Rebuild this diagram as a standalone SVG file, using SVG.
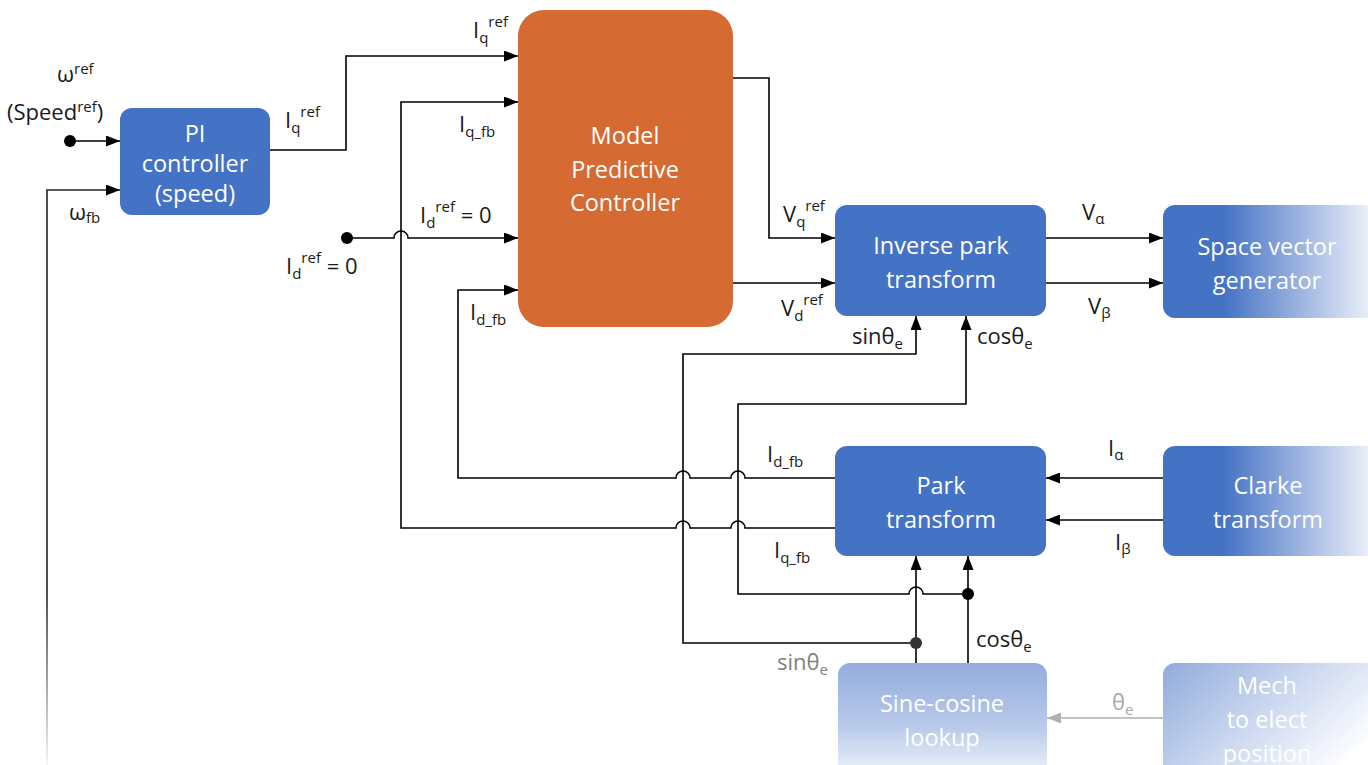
<svg xmlns="http://www.w3.org/2000/svg" width="1368" height="765" viewBox="0 0 1368 765">
<defs>
<style>
.box{fill:#4472C4}
.bt{font-family:"Open Sans","Noto Sans",sans-serif;font-size:23.5px;fill:#fff;text-anchor:middle}
.lb{font-family:"Open Sans","Noto Sans",sans-serif;font-size:22px;fill:#1a1a1a}
.sm{font-size:15px}
.ln{fill:none;stroke:#000;stroke-width:1.6}
.dot{fill:#000}
</style>
<marker id="ah" viewBox="0 0 14 11" refX="14" refY="5.5" markerWidth="14" markerHeight="11" markerUnits="userSpaceOnUse" orient="auto">
<path d="M0,0 L14,5.5 L0,11 z" fill="#000"/>
</marker>
<marker id="ahg" viewBox="0 0 14 11" refX="14" refY="5.5" markerWidth="14" markerHeight="11" markerUnits="userSpaceOnUse" orient="auto">
<path d="M0,0 L14,5.5 L0,11 z" fill="#b0b0b0"/>
</marker>
<linearGradient id="gH" x1="0" y1="0" x2="1" y2="0">
<stop offset="0.28" stop-color="#4472C4"/>
<stop offset="0.65" stop-color="#A0B6E1"/>
<stop offset="1" stop-color="#F4F7FC"/>
</linearGradient>
<linearGradient id="gV" x1="0" y1="0" x2="0" y2="1">
<stop offset="0" stop-color="#93ADDC"/>
<stop offset="0.55" stop-color="#BACBEA"/>
<stop offset="1" stop-color="#FAFBFE"/>
</linearGradient>
<linearGradient id="gD" x1="0" y1="0" x2="1" y2="0.6">
<stop offset="0" stop-color="#90ABDB"/>
<stop offset="0.5" stop-color="#C9D6EF"/>
<stop offset="1" stop-color="#FFFFFF"/>
</linearGradient>
<linearGradient id="gL" gradientUnits="userSpaceOnUse" x1="0" y1="190" x2="0" y2="765">
<stop offset="0.7" stop-color="#222"/>
<stop offset="1" stop-color="#f4f4f4"/>
</linearGradient>
</defs>
<rect width="1368" height="765" fill="#fff"/>

<g id="connectors">
<circle class="dot" cx="70" cy="141" r="6"/>
<path class="ln" d="M70,141 H120" marker-end="url(#ah)"/>
<path d="M47,765 V190 H120" fill="none" stroke="url(#gL)" stroke-width="1.6" marker-end="url(#ah)"/>
<path class="ln" d="M270,150 H346 V56 H518" marker-end="url(#ah)"/>
<path class="ln" d="M835,528 H745 A7,7 0 0 0 731,528 H690 A7,7 0 0 0 676,528 H401 V102 H518" marker-end="url(#ah)"/>
<circle class="dot" cx="347" cy="238" r="6"/>
<path class="ln" d="M347,238 H394 A7,7 0 0 1 408,238 H518" marker-end="url(#ah)"/>
<path class="ln" d="M835,478 H745 A7,7 0 0 0 731,478 H690 A7,7 0 0 0 676,478 H458 V290 H518" marker-end="url(#ah)"/>
<path class="ln" d="M733,78 H769 V238 H835" marker-end="url(#ah)"/>
<path class="ln" d="M733,283 H835" marker-end="url(#ah)"/>
<path class="ln" d="M1046,238 H1163" marker-end="url(#ah)"/>
<path class="ln" d="M1046,283 H1163" marker-end="url(#ah)"/>
<path class="ln" d="M1163,478 H1046" marker-end="url(#ah)"/>
<path class="ln" d="M1163,520 H1046" marker-end="url(#ah)"/>
<path class="ln" d="M916,643 H683 V354 H916 V316" marker-end="url(#ah)"/>
<path class="ln" d="M968,594 H923 A7,7 0 0 0 909,594 H738 V404 H966 V316" marker-end="url(#ah)"/>
<path class="ln" d="M916,663 V556" marker-end="url(#ah)"/>
<path class="ln" d="M968,663 V556" marker-end="url(#ah)"/>
<circle cx="916" cy="643" r="6" fill="#333"/>
<circle class="dot" cx="968" cy="594" r="6"/>
<path d="M1163,718 H1047" fill="none" stroke="#b0b0b0" stroke-width="1.6" marker-end="url(#ahg)"/>
</g>

<g id="pi">
<rect class="box" x="120" y="108" width="150" height="107" rx="12"/>
<text class="bt" x="195" y="142" font-size="21.5">PI</text>
<text class="bt" x="195" y="172" font-size="21.5">controller</text>
<text class="bt" x="195" y="202" font-size="21.5">(speed)</text>
</g>
<g id="mpc">
<rect x="518" y="10" width="215" height="317" rx="26" fill="#D56A32"/>
<text class="bt" x="625" y="144">Model</text>
<text class="bt" x="625" y="178">Predictive</text>
<text class="bt" x="625" y="211">Controller</text>
</g>
<g id="invpark">
<rect class="box" x="835" y="205" width="211" height="111" rx="12"/>
<text class="bt" x="941" y="254">Inverse park</text>
<text class="bt" x="941" y="288">transform</text>
</g>
<g id="svg">
<rect x="1163" y="205" width="215" height="113" rx="12" fill="url(#gH)"/>
<text class="bt" x="1267" y="255">Space vector</text>
<text class="bt" x="1267" y="289">generator</text>
</g>
<g id="park">
<rect class="box" x="835" y="446" width="211" height="110" rx="12"/>
<text class="bt" x="941" y="494">Park</text>
<text class="bt" x="941" y="528">transform</text>
</g>
<g id="clarke">
<rect x="1163" y="446" width="215" height="110" rx="12" fill="url(#gH)"/>
<text class="bt" x="1268" y="494">Clarke</text>
<text class="bt" x="1268" y="528">transform</text>
</g>
<g id="sincos">
<rect x="838" y="663" width="209" height="120" rx="12" fill="url(#gV)"/>
<text class="bt" x="942" y="712">Sine-cosine</text>
<text class="bt" x="942" y="746">lookup</text>
</g>
<g id="mech">
<rect x="1163" y="663" width="215" height="120" rx="12" fill="url(#gD)"/>
<text class="bt" x="1267" y="694">Mech</text>
<text class="bt" x="1267" y="728">to elect</text>
<text class="bt" x="1267" y="762">position</text>
</g>

<g id="labels">
<text class="lb" x="57" y="82">ω<tspan class="sm" dy="-8">ref</tspan></text>
<text class="lb" x="7" y="120">(Speed<tspan class="sm" dy="-8">ref</tspan><tspan dy="8">)</tspan></text>
<text class="lb" x="69" y="220">ω<tspan class="sm" dy="3">fb</tspan></text>
<text class="lb" x="473" y="38">I<tspan class="sm" dy="5">q</tspan><tspan class="sm" dy="-16">ref</tspan></text>
<text class="lb" x="285" y="128">I<tspan class="sm" dy="5">q</tspan><tspan class="sm" dy="-16">ref</tspan></text>
<text class="lb" x="459" y="132">I<tspan class="sm" dy="5">q_fb</tspan></text>
<text class="lb" x="420" y="223">I<tspan class="sm" dy="5">d</tspan><tspan class="sm" dy="-16">ref</tspan><tspan dy="11"> = 0</tspan></text>
<text class="lb" x="286" y="274">I<tspan class="sm" dy="5">d</tspan><tspan class="sm" dy="-16">ref</tspan><tspan dy="11"> = 0</tspan></text>
<text class="lb" x="470" y="320">I<tspan class="sm" dy="5">d_fb</tspan></text>
<text class="lb" x="783" y="222">V<tspan class="sm" dy="5">q</tspan><tspan class="sm" dy="-16">ref</tspan></text>
<text class="lb" x="781" y="316">V<tspan class="sm" dy="5">d</tspan><tspan class="sm" dy="-16">ref</tspan></text>
<text class="lb" x="1082" y="220">V<tspan class="sm" dy="4">α</tspan></text>
<text class="lb" x="1088" y="314">V<tspan class="sm" dy="4">β</tspan></text>
<text class="lb" x="852" y="344">sinθ<tspan class="sm" dy="5">e</tspan></text>
<text class="lb" x="977" y="344">cosθ<tspan class="sm" dy="5">e</tspan></text>
<text class="lb" x="767" y="462">I<tspan class="sm" dy="5">d_fb</tspan></text>
<text class="lb" x="774" y="558">I<tspan class="sm" dy="5">q_fb</tspan></text>
<text class="lb" x="1108" y="456">I<tspan class="sm" dy="4">α</tspan></text>
<text class="lb" x="1115" y="550">I<tspan class="sm" dy="4">β</tspan></text>
<text class="lb" x="976" y="647">cosθ<tspan class="sm" dy="5">e</tspan></text>
<text class="lb" x="777" y="670" style="fill:#808080">sinθ<tspan class="sm" dy="5">e</tspan></text>
<text class="lb" x="1112" y="710" style="fill:#a8a8a8">θ<tspan class="sm" dy="5">e</tspan></text>
</g>
</svg>
